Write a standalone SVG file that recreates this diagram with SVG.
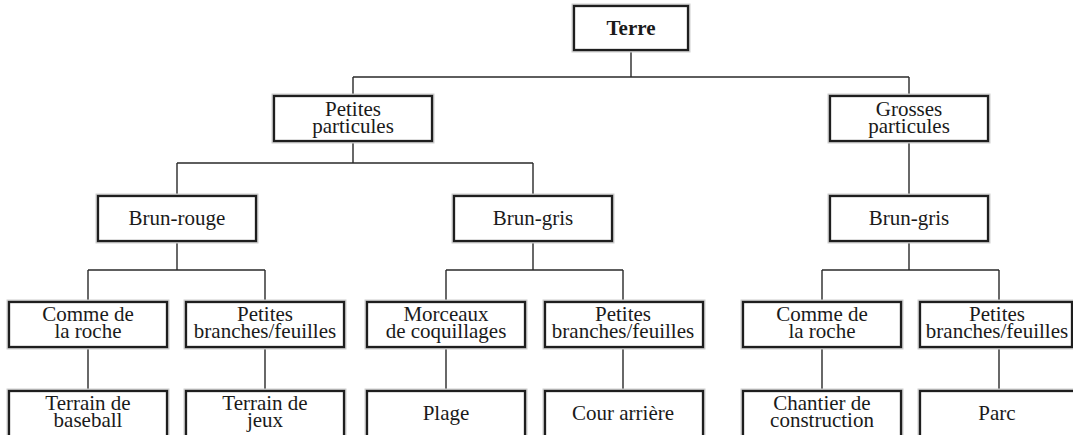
<svg xmlns="http://www.w3.org/2000/svg" width="1073" height="435" viewBox="0 0 1073 435">
<style>
.halo{fill:none;stroke:#cdcdcd;stroke-width:5}
.box{fill:#fff;stroke:#1e1e1e;stroke-width:2.3}
.c{fill:none;stroke:#2a2a2a;stroke-width:1.4}
</style>
<rect width="1073" height="435" fill="#fff"/>
<g id="connectors">
<path class="c" d="M631,50V77M353,77H909M353,77V96M909,77V96"/>
<path class="c" d="M353,141V163M177,163H533M177,163V196M533,163V196M909,141V196"/>
<path class="c" d="M177,241V270M88,270H265M88,270V302M265,270V302"/>
<path class="c" d="M533,241V270M446,270H623M446,270V302M623,270V302"/>
<path class="c" d="M909,241V270M822,270H999M822,270V302M999,270V302"/>
<path class="c" d="M88,347V391M265,347V391M446,347V391M623,347V391M822,347V391M999,347V391"/>
</g>
<g id="nodes" font-family="Liberation Serif" font-size="21" fill="#1a1a1a" text-anchor="middle">
<g id="terre"><rect class="halo" x="574" y="6" width="114" height="44"/><rect class="box" x="574" y="6" width="114" height="44"/><text font-weight="bold" x="631" y="35">Terre</text></g>
<g id="petites-particules"><rect class="halo" x="274" y="96" width="158" height="45"/><rect class="box" x="274" y="96" width="158" height="45"/><text x="353" y="116">Petites</text><text x="353" y="133">particules</text></g>
<g id="grosses-particules"><rect class="halo" x="830" y="96" width="158" height="45"/><rect class="box" x="830" y="96" width="158" height="45"/><text x="909" y="116">Grosses</text><text x="909" y="133">particules</text></g>
<g id="brun-rouge"><rect class="halo" x="98" y="196" width="158" height="45"/><rect class="box" x="98" y="196" width="158" height="45"/><text x="177" y="225">Brun-rouge</text></g>
<g id="brun-gris-1"><rect class="halo" x="454" y="196" width="158" height="45"/><rect class="box" x="454" y="196" width="158" height="45"/><text x="533" y="225">Brun-gris</text></g>
<g id="brun-gris-2"><rect class="halo" x="830" y="196" width="158" height="45"/><rect class="box" x="830" y="196" width="158" height="45"/><text x="909" y="225">Brun-gris</text></g>
<g id="comme-roche-1"><rect class="halo" x="9" y="302" width="158" height="45"/><rect class="box" x="9" y="302" width="158" height="45"/><text x="88" y="321">Comme de</text><text x="88" y="338">la roche</text></g>
<g id="branches-1"><rect class="halo" x="186" y="302" width="158" height="45"/><rect class="box" x="186" y="302" width="158" height="45"/><text x="265" y="321">Petites</text><text x="265" y="338">branches/feuilles</text></g>
<g id="coquillages"><rect class="halo" x="367" y="302" width="158" height="45"/><rect class="box" x="367" y="302" width="158" height="45"/><text x="446" y="321">Morceaux</text><text x="446" y="338">de coquillages</text></g>
<g id="branches-2"><rect class="halo" x="545" y="302" width="158" height="45"/><rect class="box" x="545" y="302" width="158" height="45"/><text x="623" y="321">Petites</text><text x="623" y="338">branches/feuilles</text></g>
<g id="comme-roche-2"><rect class="halo" x="743" y="302" width="158" height="45"/><rect class="box" x="743" y="302" width="158" height="45"/><text x="822" y="321">Comme de</text><text x="822" y="338">la roche</text></g>
<g id="branches-3"><rect class="halo" x="920" y="302" width="152" height="45"/><rect class="box" x="920" y="302" width="152" height="45"/><text x="997" y="321">Petites</text><text x="997" y="338">branches/feuilles</text></g>
<g id="baseball"><rect class="halo" x="9" y="391" width="158" height="47"/><rect class="box" x="9" y="391" width="158" height="47"/><text x="88" y="410">Terrain de</text><text x="88" y="427">baseball</text></g>
<g id="jeux"><rect class="halo" x="186" y="391" width="158" height="47"/><rect class="box" x="186" y="391" width="158" height="47"/><text x="265" y="410">Terrain de</text><text x="265" y="427">jeux</text></g>
<g id="plage"><rect class="halo" x="367" y="391" width="158" height="47"/><rect class="box" x="367" y="391" width="158" height="47"/><text x="446" y="420">Plage</text></g>
<g id="cour"><rect class="halo" x="545" y="391" width="158" height="47"/><rect class="box" x="545" y="391" width="158" height="47"/><text x="623" y="420">Cour arrière</text></g>
<g id="chantier"><rect class="halo" x="743" y="391" width="158" height="47"/><rect class="box" x="743" y="391" width="158" height="47"/><text x="822" y="410">Chantier de</text><text x="822" y="427">construction</text></g>
<g id="parc"><rect class="halo" x="920" y="391" width="160" height="47"/><rect class="box" x="920" y="391" width="160" height="47"/><text x="997" y="420">Parc</text></g>
</g>
</svg>
